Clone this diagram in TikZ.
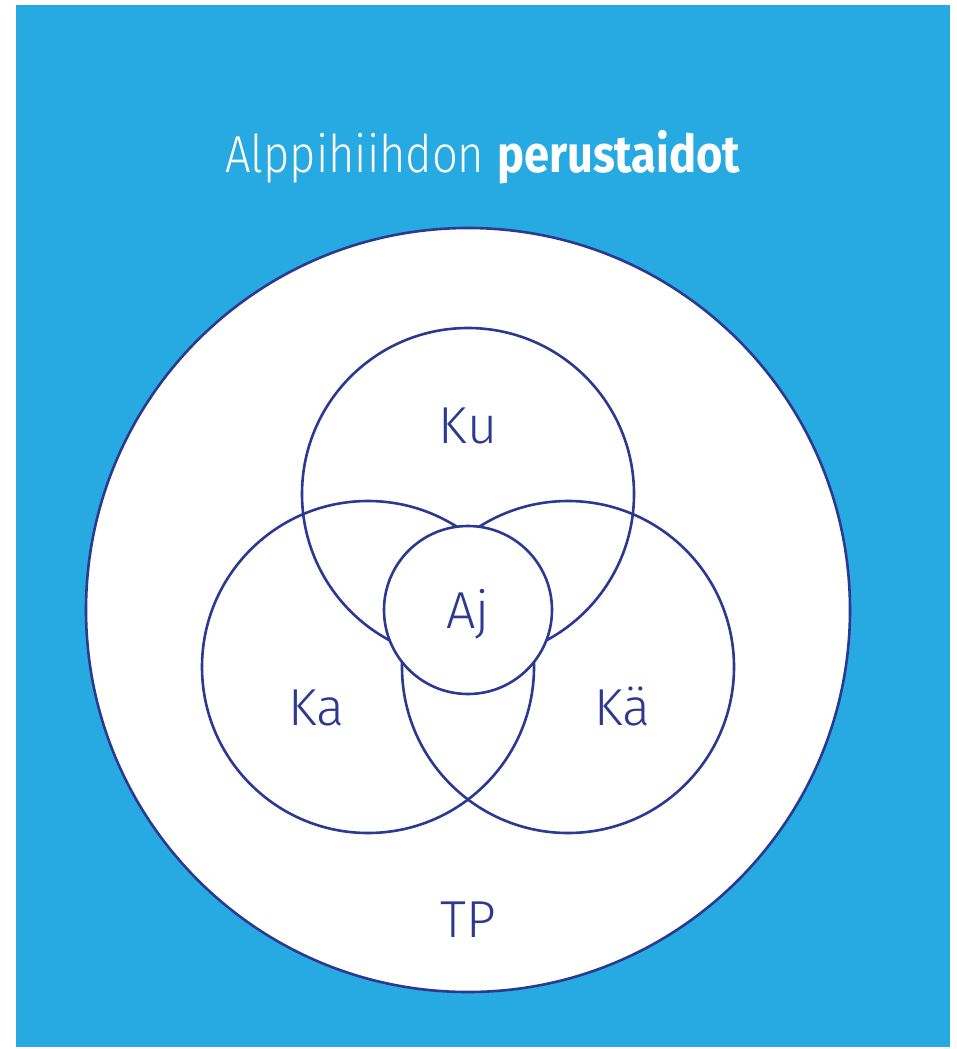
\documentclass[tikz,border=0pt]{standalone}
\usepackage{fontspec}
\setmainfont{Fira Sans Light}[BoldFont=Fira Sans Bold]
\definecolor{bgblue}{HTML}{27A9E1}
\definecolor{navy}{HTML}{2B3990}
\begin{document}
\begin{tikzpicture}[x=1pt,y=-1pt,
  ring/.style={draw=navy,line width=2.6pt},
  lbl/.style={text=navy,font=\fontsize{52}{60}\selectfont,inner sep=0pt,anchor=base}]
\useasboundingbox (0,0) rectangle (957,1049);
\fill[white] (0,0) rectangle (957,1049);
\fill[bgblue] (16,5) rectangle (950,1047);
\node[text=white,font=\fontsize{52}{60}\selectfont,inner sep=0pt,anchor=base] (title) at (483,172) {\scalebox{0.87}[1]{Alppihiihdon \textbf{perustaidot}}};
\node[circle,ring,fill=white,minimum size=764pt,inner sep=0pt] (tp) at (468,610) {};
\node[circle,ring,minimum size=332pt,inner sep=0pt] (ku) at (468,494) {};
\node[circle,ring,minimum size=332pt,inner sep=0pt] (ka) at (368,667) {};
\node[circle,ring,minimum size=332pt,inner sep=0pt] (kae) at (568,667) {};
\node[circle,ring,fill=white,minimum size=168pt,inner sep=0pt] (aj) at (468,610) {};
\node[lbl] (tku) at (468,443) {Ku};
\node[lbl] (taj) at (468,628) {Aj};
\node[lbl] (tka) at (316,725) {Ka};
\node[lbl] (tkae) at (622,725) {Kä};
\node[lbl] (ttp) at (468,937) {TP};
\end{tikzpicture}
\end{document}
